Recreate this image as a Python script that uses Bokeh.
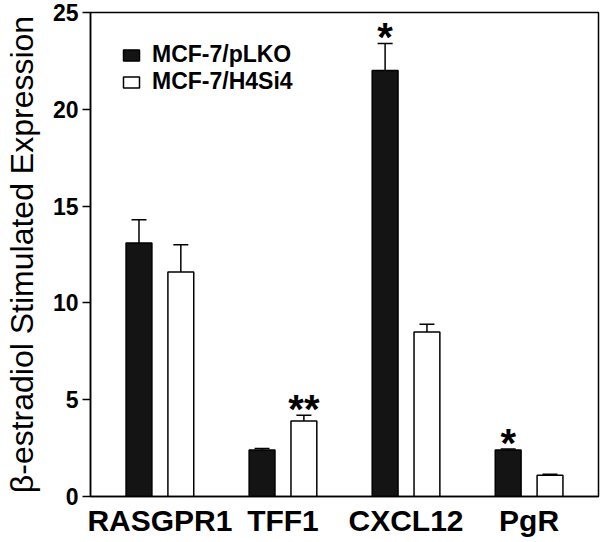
from bokeh.plotting import figure
from bokeh.models import FactorRange, Range1d, Whisker, TeeHead, ColumnDataSource
from bokeh.transform import dodge
from bokeh.core.properties import value
from bokeh.embed import file_html
from bokeh.resources import INLINE

# ---- data ----
categories = ["RASGPR1", "TFF1", "CXCL12", "PgR"]
pLKO = [13.1, 2.4, 22.0, 2.4]
pLKO_err = [1.2, 0.08, 1.4, 0.05]
H4Si4 = [11.6, 3.9, 8.5, 1.1]
H4Si4_err = [1.4, 0.3, 0.4, 0.05]
pLKO_sig = ["", "", "*", "*"]
H4Si4_sig = ["", "**", "", ""]
y_ticks = [0, 5, 10, 15, 20, 25]

src = ColumnDataSource(dict(
    cats=categories,
    pLKO=pLKO,
    pLKO_up=[v + e for v, e in zip(pLKO, pLKO_err)],
    pLKO_sig=pLKO_sig,
    H4=H4Si4,
    H4_up=[v + e for v, e in zip(H4Si4, H4Si4_err)],
    H4_sig=H4Si4_sig,
))

FONT = "Liberation Sans"
OFF = 0.17
BW = 0.21
W, H = 600, 542
TOP, BOTTOM, LEFT, RIGHT = 12, 46, 89, 2

p = figure(x_range=FactorRange(factors=categories, range_padding=0.032),
           y_range=Range1d(0, 25),
           width=W, height=H,
           output_backend="svg", toolbar_location=None,
           min_border_left=LEFT, min_border_right=RIGHT,
           min_border_top=TOP, min_border_bottom=BOTTOM)

p.vbar(x=dodge("cats", -OFF, range=p.x_range), top="pLKO", width=BW, source=src,
       fill_color="#141414", line_color="black", line_width=1.5,
       legend_label="MCF-7/pLKO")
p.vbar(x=dodge("cats", OFF, range=p.x_range), top="H4", width=BW, source=src,
       fill_color="white", line_color="black", line_width=1.5,
       legend_label="MCF-7/H4Si4")

for key, off in (("pLKO", -OFF), ("H4", OFF)):
    w = Whisker(base=dodge("cats", off, range=p.x_range), upper=key + "_up", lower=key,
                source=src, line_color="black", line_width=1.5,
                upper_head=TeeHead(size=15, line_width=1.5, line_color="black"),
                lower_head=None)
    p.add_layout(w)
    p.text(x=dodge("cats", off, range=p.x_range), y=key + "_up", text=key + "_sig",
           source=src, text_font=value(FONT), text_font_style="bold",
           text_font_size="40px", text_align="center", text_baseline="alphabetic",
           y_offset=-6, text_color="black")

p.grid.visible = False
p.outline_line_color = "black"
p.outline_line_width = 1.5

p.yaxis.ticker = y_ticks
p.yaxis.minor_tick_line_color = None
p.yaxis.major_tick_out = 8
p.yaxis.major_tick_in = 0
p.yaxis.major_tick_line_width = 1.5
p.yaxis.axis_line_width = 1.5
p.yaxis.major_label_text_font = FONT
p.yaxis.major_label_text_font_style = "bold"
p.yaxis.major_label_text_font_size = "23px"
p.yaxis.major_label_text_color = "black"
p.yaxis.major_label_standoff = 4
p.yaxis.axis_label = "β-estradiol Stimulated Expression"
p.yaxis.axis_label_text_font = FONT
p.yaxis.axis_label_text_font_style = "normal"
p.yaxis.axis_label_text_font_size = "32px"
p.yaxis.axis_label_text_color = "black"
p.yaxis.axis_label_standoff = 10

p.xaxis.major_tick_line_color = None
p.xaxis.minor_tick_line_color = None
p.xaxis.axis_line_width = 1.5
p.xaxis.major_label_text_font = FONT
p.xaxis.major_label_text_font_style = "bold"
p.xaxis.major_label_text_font_size = "30px"
p.xaxis.major_label_text_color = "black"
p.xaxis.major_label_standoff = 1

frame_h = H - TOP - BOTTOM
lg = p.legend[0]
lg.location = (31, frame_h - 83)
lg.margin = 0
lg.padding = 0
lg.border_line_color = None
lg.background_fill_alpha = 0
lg.glyph_width = 20
lg.glyph_height = 14
lg.label_height = 22
lg.label_text_font = FONT
lg.label_text_font_style = "bold"
lg.label_text_font_size = "23px"
lg.label_text_color = "black"
lg.label_standoff = 11
lg.spacing = -3

open("out.html", "w").write(file_html(p, INLINE))
